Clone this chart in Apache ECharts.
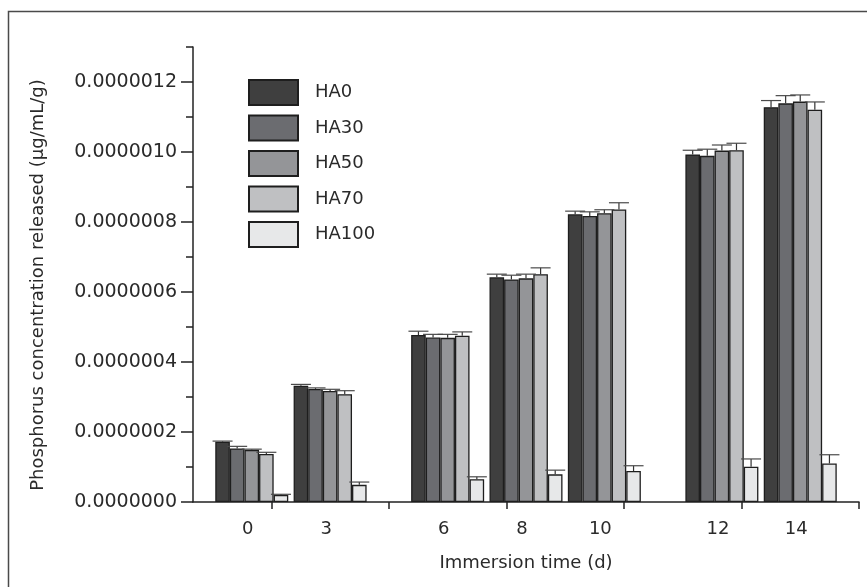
<!DOCTYPE html>
<html><head><meta charset="utf-8">
<script src="https://cdn.jsdelivr.net/npm/echarts@6/dist/echarts.min.js"></script>
<style>html,body{margin:0;padding:0;background:#fff}#c{width:867px;height:587px}</style>
</head><body><div id="c"></div>
<script>
// Immersion days (tick labels) and where each group sits on the x value axis
const days = ['0', '3', '6', '8', '10', '12', '14'];
const groupPos = [1.5, 3.5, 6.5, 8.5, 10.5, 13.5, 15.5];
const xTickValues = [2, 5, 8, 11, 14, 17];

const seriesNames = ['HA0', 'HA30', 'HA50', 'HA70', 'HA100'];
// Phosphorus concentration released, in units of 1e-7 µg/mL/g
const ha0   = [1.72, 3.32, 4.77, 6.42, 8.22, 9.93, 11.28];
const ha30  = [1.53, 3.23, 4.70, 6.36, 8.17, 9.89, 11.39];
const ha50  = [1.49, 3.17, 4.69, 6.39, 8.25, 10.04, 11.44];
const ha70  = [1.37, 3.08, 4.75, 6.51, 8.36, 10.05, 11.21];
const ha100 = [0.20, 0.49, 0.65, 0.79, 0.886, 1.01, 1.10];
// Error bar half-heights (same units)
const err0   = [0.02, 0.04, 0.11, 0.09, 0.09, 0.12, 0.19];
const err30  = [0.06, 0.03, 0.09, 0.12, 0.12, 0.19, 0.22];
const err50  = [0.02, 0.05, 0.10, 0.12, 0.10, 0.16, 0.19];
const err70  = [0.05, 0.10, 0.11, 0.18, 0.19, 0.20, 0.22];
const err100 = [0.02, 0.08, 0.07, 0.12, 0.15, 0.22, 0.25];
const yMajorTicks = [0, 2, 4, 6, 8, 10, 12];
const SCALE = 1e-7;

const values = [ha0, ha30, ha50, ha70, ha100];
const errors = [err0, err30, err50, err70, err100];
const colors = ['#3f3f3f', '#6b6c70', '#949598', '#bfc0c2', '#e7e8e9'];
const BAR_W = 14.6;
const FONT = 'DejaVu Sans';
const TXT = '#2a2a2a';

const chart = echarts.init(document.getElementById('c'), null, {renderer: 'canvas'});

const barSeries = seriesNames.map((name, s) => ({
  name: name,
  type: 'bar',
  barWidth: BAR_W,
  barGap: '0%',
  data: groupPos.map((x, i) => [x, values[s][i] * SCALE]),
  itemStyle: {color: colors[s], borderColor: '#1e1e1e', borderWidth: 1.3},
  emphasis: {disabled: true},
  z: 2
}));

const errSeries = seriesNames.map((name, s) => ({
  name: name + '_err',
  type: 'custom',
  data: groupPos.map((x, i) => [x, values[s][i] * SCALE, errors[s][i] * SCALE]),
  renderItem: function (params, api) {
    const x = api.value(0), v = api.value(1), e = api.value(2);
    const base = api.coord([x, v]);
    const top = api.coord([x, v + e]);
    const cx = base[0] + (s - 2) * BAR_W;
    return {
      type: 'group',
      children: [
        {type: 'line', shape: {x1: cx, y1: base[1], x2: cx, y2: top[1]}, style: {stroke: '#333', lineWidth: 1.2}},
        {type: 'line', shape: {x1: cx - 10, y1: top[1], x2: cx + 10, y2: top[1]}, style: {stroke: '#4a4a4a', lineWidth: 1.2}}
      ]
    };
  },
  z: 5,
  silent: true
}));

chart.setOption({
  animation: false,
  backgroundColor: '#fff',
  grid: {left: 193, right: 8, top: 47, bottom: 85, containLabel: false},
  legend: {
    data: seriesNames,
    orient: 'vertical',
    left: 243, top: 74,
    itemWidth: 49, itemHeight: 25, itemGap: 8.5,
    icon: 'rect',
    selectedMode: false,
    textStyle: {fontFamily: FONT, fontSize: 18, color: TXT, padding: [0, 0, 0, 12]}
  },
  xAxis: {
    type: 'value', min: 0, max: 17,
    name: 'Immersion time (d)', nameLocation: 'middle', nameGap: 52,
    nameTextStyle: {fontFamily: FONT, fontSize: 18, color: TXT},
    axisLine: {show: true, lineStyle: {color: '#222', width: 1.5}},
    axisTick: {show: true, customValues: xTickValues, length: 7, lineStyle: {color: '#222', width: 1.5}},
    axisLabel: {
      customValues: groupPos,
      margin: 18,
      fontFamily: FONT, fontSize: 18, color: TXT,
      padding: [0, 8, 0, 0],
      formatter: function (v) {
        const i = groupPos.findIndex(p => Math.abs(p - v) < 1e-6);
        return i >= 0 ? days[i] : '';
      }
    },
    splitLine: {show: false}
  },
  yAxis: [{
    type: 'value', min: 0, max: 13 * SCALE, interval: SCALE, position: 'left',
    axisLine: {show: true, lineStyle: {color: '#222', width: 1.5}},
    axisTick: {show: true, length: 7, lineStyle: {color: '#222', width: 1.5}},
    axisLabel: {show: false},
    splitLine: {show: false}
  }, {
    type: 'value', min: 0, max: 13 * SCALE, position: 'left',
    axisLine: {show: false},
    axisTick: {show: true, customValues: yMajorTicks.map(v => v * SCALE), length: 12, lineStyle: {color: '#222', width: 1.5}},
    axisLabel: {
      customValues: yMajorTicks.map(v => v * SCALE),
      margin: 16, fontFamily: FONT, fontSize: 19, color: TXT,
      formatter: v => (Math.round(v / SCALE) * SCALE).toFixed(7)
    },
    splitLine: {show: false}
  }],
  graphic: [
    {type: 'rect', shape: {x: 8.5, y: 11.5, width: 1000, height: 1000}, style: {fill: 'none', stroke: '#4a4a4a', lineWidth: 1.5}, silent: true, z: 0},
    {type: 'text', x: 38, y: 285, rotation: Math.PI / 2,
     style: {text: 'Phosphorus concentration released (μg/mL/g)', fontFamily: FONT, fontSize: 18, fill: TXT, align: 'center', verticalAlign: 'middle'}, silent: true}
  ],
  series: barSeries.concat(errSeries)
});
</script></body></html>
